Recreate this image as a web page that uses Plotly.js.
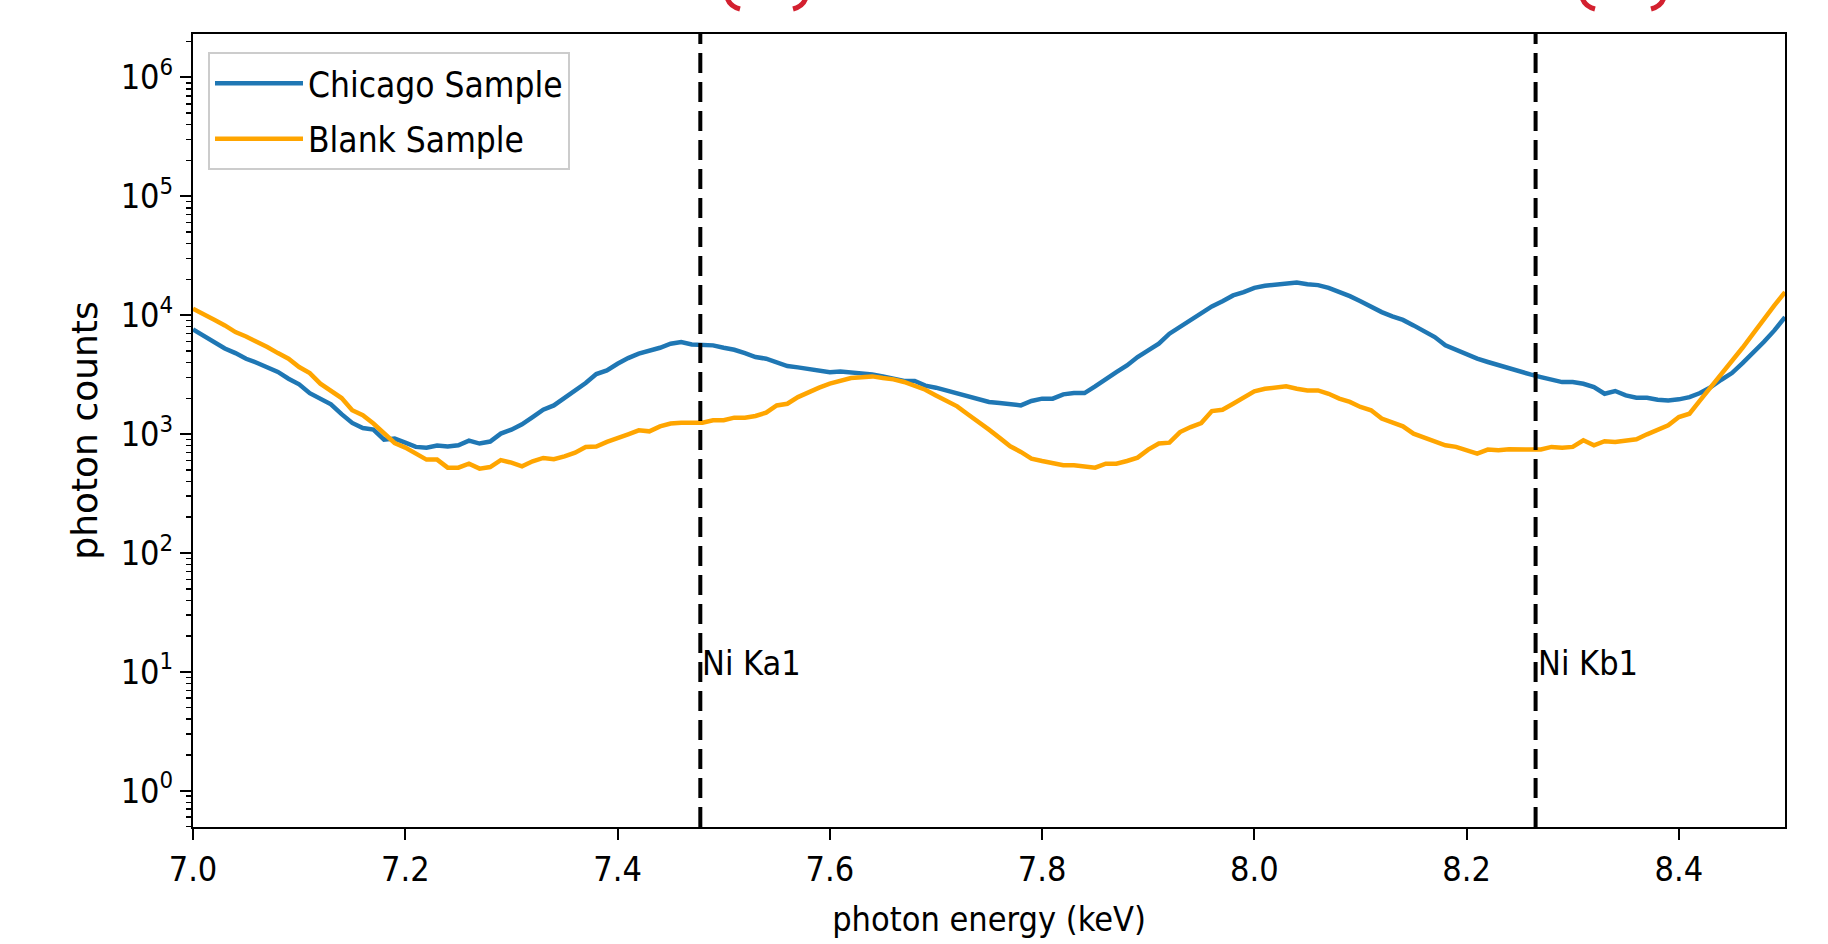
<!DOCTYPE html>
<html>
<head>
<meta charset="utf-8">
<script src="https://cdn.plot.ly/plotly-3.0.1.min.js"></script>
<style>html,body{margin:0;padding:0;background:#fff;}</style>
</head>
<body>
<div id="chart" style="width:1828px;height:944px;"></div>
<script>
// ---- data ----
const energy = [
  7.00,7.01,7.02,7.03,7.04,7.05,7.06,7.07,7.08,7.09,
  7.10,7.11,7.12,7.13,7.14,7.15,7.16,7.17,7.18,7.19,
  7.20,7.21,7.22,7.23,7.24,7.25,7.26,7.27,7.28,7.29,
  7.30,7.31,7.32,7.33,7.34,7.35,7.36,7.37,7.38,7.39,
  7.40,7.41,7.42,7.43,7.44,7.45,7.46,7.47,7.48,7.49,
  7.50,7.51,7.52,7.53,7.54,7.55,7.56,7.57,7.58,7.59,
  7.60,7.61,7.62,7.63,7.64,7.65,7.66,7.67,7.68,7.69,
  7.70,7.71,7.72,7.73,7.74,7.75,7.76,7.77,7.78,7.79,
  7.80,7.81,7.82,7.83,7.84,7.85,7.86,7.87,7.88,7.89,
  7.90,7.91,7.92,7.93,7.94,7.95,7.96,7.97,7.98,7.99,
  8.00,8.01,8.02,8.03,8.04,8.05,8.06,8.07,8.08,8.09,
  8.10,8.11,8.12,8.13,8.14,8.15,8.16,8.17,8.18,8.19,
  8.20,8.21,8.22,8.23,8.24,8.25,8.26,8.27,8.28,8.29,
  8.30,8.31,8.32,8.33,8.34,8.35,8.36,8.37,8.38,8.39,
  8.40,8.41,8.42,8.43,8.44,8.45,8.46,8.47,8.48,8.49,
  8.50
];

const chicagoCounts = [
  7590,6750,6040,5250,4800,4300,3980,3660,3330,2920,
  2620,2210,1990,1780,1470,1240,1125,1090,897,916,
  847,780,769,800,785,805,881,832,865,1009,
  1089,1208,1390,1603,1742,2023,2301,2685,3199,3428,
  3899,4355,4742,4989,5321,5754,5943,5675,5636,5572,
  5321,5117,4797,4446,4305,4036,3733,3639,3548,3428,
  3319,3365,3319,3214,3177,3055,2938,2793,2793,2553,
  2455,2328,2183,2075,1986,1862,1828,1799,1742,1897,
  1986,1986,2158,2213,2213,2518,2917,3319,3776,4446,
  5058,5754,6982,7943,9036,10399,11858,13122,14655,15631,
  16982,17660,18030,18621,18836,18239,17906,16982,15812,14454,
  13122,11695,10617,9772,9120,8204,7295,6546,5572,5117,
  4592,4305,4036,3784,3614,3319,3177,3013,2884,2735,
  2735,2649,2483,2183,2301,2113,2023,2023,1945,1919,
  1959,2046,2213,2483,2864,3258,3954,4797,5943,7447,
  9638
];

const blankCounts = [
  11324,10280,9162,8204,7211,6622,6012,5395,4797,4305,
  3664,3258,2655,2286,2009,1585,1439,1225,1021,841,
  769,685,610,610,522,522,564,512,528,603,
  575,536,590,630,614,650,698,780,785,859,
  933,995,1074,1054,1161,1225,1247,1239,1247,1306,
  1306,1374,1374,1419,1514,1742,1799,2046,2254,2455,
  2655,2793,2958,2999,3055,2958,2884,2742,2570,2360,
  2113,1919,1710,1466,1247,1089,929,789,708,622,
  594,571,547,547,530,522,564,564,594,634,
  740,832,847,1040,1146,1239,1563,1603,1799,2023,
  2286,2404,2455,2518,2404,2328,2328,2183,1986,1862,
  1690,1585,1349,1259,1161,1007,933,875,805,780,
  731,685,741,731,745,745,741,741,780,769,
  780,887,805,871,859,875,904,995,1074,1183,
  1390,1483,1919,2483,3112,4036,5321,6982,9333,12078,
  15631
];

const seriesNames = ["Chicago Sample", "Blank Sample"];
const lineEnergies = [7.478, 8.265];
const lineLabels = ["Ni Ka1", "Ni Kb1"];
const lineLabelCount = 10;

const xTickVals = [7.0, 7.2, 7.4, 7.6, 7.8, 8.0, 8.2, 8.4];
const xTickText = ["7.0", "7.2", "7.4", "7.6", "7.8", "8.0", "8.2", "8.4"];
const yTickVals = [1, 10, 100, 1000, 10000, 100000, 1000000];
const yTickText = ["10<sup>0</sup>", "10<sup>1</sup>", "10<sup>2</sup>", "10<sup>3</sup>",
                   "10<sup>4</sup>", "10<sup>5</sup>", "10<sup>6</sup>"];

// ---- styling ----
const F = "'DejaVu Sans Condensed', 'DejaVu Sans', sans-serif";
const FS = 34;
const W = 1828, H = 944;
const M = {l: 193, r: 43, t: 34, b: 117};

// minor log ticks (2..9 x 10^n)
const minorVals = [];
for (let e = -1; e <= 6; e++) {
  for (let d = 2; d <= 9; d++) minorVals.push(d * Math.pow(10, e));
}

const traces = [
  {x: energy, y: chicagoCounts, name: seriesNames[0], type: 'scatter', mode: 'lines',
   legendgroup: 'a', line: {color: '#1f77b4', width: 4.5}},
  {x: energy, y: blankCounts, name: seriesNames[1], type: 'scatter', mode: 'lines',
   legendgroup: 'b', line: {color: 'orange', width: 4.5}}
];

// pixel -> paper helpers for decorative strokes outside the axes
const pw = W - M.l - M.r, ph = H - M.t - M.b;
const px = v => (v - M.l) / pw;
const py = v => (H - M.b - v) / ph;
function arc(x0, y0, cx, cy, x1, y1) {
  return {type: 'path', xref: 'paper', yref: 'paper', layer: 'above',
    path: `M ${px(x0)} ${py(y0)} Q ${px(cx)} ${py(cy)} ${px(x1)} ${py(y1)}`,
    line: {color: '#d3202f', width: 5}};
}

const shapes = lineEnergies.map(e => ({
  type: 'line', xref: 'x', yref: 'paper', x0: e, x1: e, y0: 0, y1: 1,
  line: {color: 'black', width: 4, dash: '20px,9px'}
}));
shapes.push(arc(727, -3, 729, 6, 740, 9));
shapes.push(arc(806, -3, 804, 6, 793, 9));
shapes.push(arc(1582, -3, 1584, 6, 1595, 9));
shapes.push(arc(1664, -3, 1662, 6, 1651, 9));

const annotations = lineEnergies.map((e, i) => ({
  x: e, y: Math.log10(lineLabelCount), xref: 'x', yref: 'y',
  text: lineLabels[i], showarrow: false, xanchor: 'left', yanchor: 'bottom',
  xshift: 0, yshift: -13, font: {family: F, size: FS, color: 'black'}
}));

const layout = {
  width: W, height: H,
  margin: {l: M.l, r: M.r, t: M.t, b: M.b, pad: 0},
  paper_bgcolor: 'white', plot_bgcolor: 'white',
  font: {family: F, size: FS, color: 'black'},
  showlegend: true,
  legend: {
    x: px(208), y: py(52), xanchor: 'left', yanchor: 'top',
    bgcolor: 'rgba(255,255,255,0.8)', bordercolor: '#cccccc', borderwidth: 2,
    font: {family: F, size: 35, color: 'black'},
    tracegroupgap: 7, itemwidth: 88
  },
  xaxis: {
    range: [7.0, 8.5], tickmode: 'array', tickvals: xTickVals, ticktext: xTickText,
    ticks: 'outside', ticklen: 11, tickwidth: 2, tickcolor: 'black',
    showline: true, linecolor: 'black', linewidth: 2, mirror: true,
    showgrid: false, zeroline: false,
    tickfont: {family: F, size: FS, color: 'black'},
    title: {text: 'photon energy (keV)', font: {family: F, size: FS, color: 'black'}, standoff: 19}
  },
  yaxis: {
    type: 'log', range: [-0.305, 6.365], tickmode: 'array', tickvals: yTickVals, ticktext: yTickText,
    ticks: 'outside', ticklen: 11, tickwidth: 2, tickcolor: 'black',
    minor: {tickmode: 'array', tickvals: minorVals, ticks: 'outside', ticklen: 5, tickwidth: 1.5, tickcolor: 'black', showgrid: false},
    showline: true, linecolor: 'black', linewidth: 2, mirror: true,
    showgrid: false, zeroline: false,
    tickfont: {family: F, size: FS, color: 'black'},
    title: {text: 'photon counts', font: {family: "'DejaVu Sans', sans-serif", size: 36, color: 'black'}, standoff: 12}
  },
  shapes: shapes,
  annotations: annotations
};

Plotly.newPlot('chart', traces, layout, {displayModeBar: false, staticPlot: true});
</script>
</body>
</html>
